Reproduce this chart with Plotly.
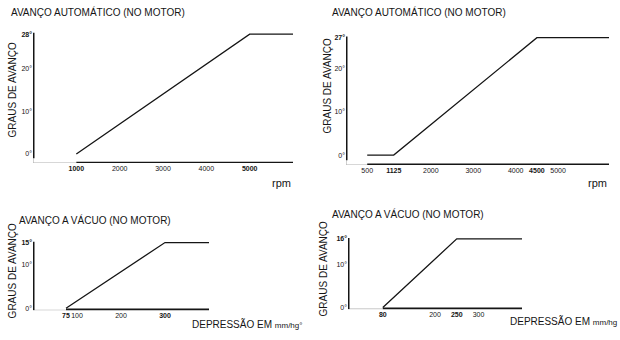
import plotly.graph_objects as go

W, H = 620, 340

# ---------------- data ----------------
rpm_a_x = [1000, 5000, 6000]
rpm_a_y = [0, 28, 28]
rpm_b_x = [500, 1125, 4500, 6200]
rpm_b_y = [0, 0, 27, 27]
vac_a_x = [75, 300, 400]
vac_a_y = [0, 15, 15]
vac_b_x = [80, 250, 400]
vac_b_y = [0, 16, 16]

rpm_a_ticks = [1000, 2000, 3000, 4000, 5000]
rpm_a_text = ["<b>1000</b>", "2000", "3000", "4000", "<b>5000</b>"]
rpm_b_ticks = [500, 1125, 2000, 3000, 4000, 4500, 5000]
rpm_b_text = ["500", "<b>1125</b>", "2000", "3000", "4000", "<b>4500</b>", "5000"]
vac_a_ticks = [75, 100, 200, 300]
vac_a_text = ["<b>75</b>", "100", "200", "<b>300</b>"]
vac_b_ticks = [80, 200, 250, 300]
vac_b_text = ["<b>80</b>", "200", "<b>250</b>", "300"]

deg_a_ticks = [0, 10, 20, 28]
deg_a_text = ["0°", "10°", "20°", "<b>28°</b>"]
deg_b_ticks = [0, 10, 20, 27]
deg_b_text = ["0°", "10°", "20°", "<b>27°</b>"]
deg_c_ticks = [0, 10, 15]
deg_c_text = ["0°", "10°", "<b>15°</b>"]
deg_d_ticks = [0, 10, 16]
deg_d_text = ["0°", "10°", "<b>16°</b>"]

TITLE_RPM = "AVANÇO AUTOMÁTICO (NO MOTOR)"
TITLE_VAC = "AVANÇO A VÁCUO (NO MOTOR)"
YTITLE = "GRAUS DE AVANÇO"

FONT = "Liberation Sans, Arial, sans-serif"
INK = "#151515"
GRAY = "#b0b0b0"

panels = [
    dict(x=rpm_a_x, y=rpm_a_y, xpx=(33, 293), ypx=(30, 164), xr=[0, 6000], yr=[-2.1, 29.0],
         xt=rpm_a_ticks, xtt=rpm_a_text, yt=deg_a_ticks, ytt=deg_a_text, ytop=28.3, ybot=-1.0),
    dict(x=rpm_b_x, y=rpm_b_y, xpx=(346, 609), ypx=(34, 166), xr=[0, 6200], yr=[-2.29, 27.9],
         xt=rpm_b_ticks, xtt=rpm_b_text, yt=deg_b_ticks, ytt=deg_b_text, ytop=27.3, ybot=-1.2),
    dict(x=vac_a_x, y=vac_a_y, xpx=(33, 209), ypx=(239.6, 312.2), xr=[0, 400], yr=[-0.5, 16.0],
         xt=vac_a_ticks, xtt=vac_a_text, yt=deg_c_ticks, ytt=deg_c_text, ytop=15.2, ybot=-0.5),
    dict(x=vac_b_x, y=vac_b_y, xpx=(348, 522), ypx=(236, 311), xr=[0, 400], yr=[-0.4, 17.0],
         xt=vac_b_ticks, xtt=vac_b_text, yt=deg_d_ticks, ytt=deg_d_text, ytop=16.2, ybot=-0.4),
]

fig = go.Figure()
layout = {}
shapes = []
for i, p in enumerate(panels, start=1):
    sx = "" if i == 1 else str(i)
    xa, ya = "x" + sx, "y" + sx
    fig.add_trace(go.Scatter(x=p["x"], y=p["y"], mode="lines", xaxis=xa, yaxis=ya,
                             line=dict(color=INK, width=1.3), showlegend=False, hoverinfo="skip"))
    x0, x1 = p["xpx"]
    yt, yb = p["ypx"]
    layout["xaxis" + sx] = dict(domain=[x0 / W, x1 / W], range=p["xr"], anchor=ya,
                                showgrid=False, zeroline=False, showline=False, ticks="",
                                tickangle=0,
                                tickvals=p["xt"], ticktext=p["xtt"],
                                tickfont=dict(family=FONT, size=7, color=INK))
    layout["yaxis" + sx] = dict(domain=[1 - yb / H, 1 - yt / H], range=p["yr"], anchor=xa,
                                showgrid=False, zeroline=False, showline=False, ticks="",
                                tickvals=p["yt"], ticktext=p["ytt"],
                                tickfont=dict(family=FONT, size=7, color=INK))
    ylow = p["yr"][0]
    start = p["x"][0]
    xend = p["xr"][1]
    shapes.append(dict(type="line", xref=xa, yref=ya, x0=0, x1=start, y0=ylow, y1=ylow,
                       line=dict(color=GRAY, width=1.2)))
    shapes.append(dict(type="line", xref=xa, yref=ya, x0=0, x1=0, y0=ylow, y1=p["ybot"],
                       line=dict(color=GRAY, width=1.2)))
    xthick = 3.5 if i >= 3 else 2.8
    shapes.append(dict(type="line", xref=xa, yref=ya, x0=start, x1=xend, y0=ylow, y1=ylow,
                       line=dict(color=INK, width=xthick)))
    shapes.append(dict(type="line", xref=xa, yref=ya, x0=0, x1=0, y0=p["ybot"], y1=p["ytop"],
                       line=dict(color=INK, width=3)))


def ann(text, x, y, size=10, xanchor="left", angle=0, color=INK):
    return dict(text=text, x=x / W, y=1 - y / H, xref="paper", yref="paper", showarrow=False,
                xanchor=xanchor, yanchor="middle", textangle=angle,
                font=dict(family=FONT, size=size, color=color))


annotations = [
    ann(TITLE_RPM, 9, 12, size=10),
    ann(TITLE_RPM, 330, 12, size=10),
    ann(TITLE_VAC, 17, 221, size=10),
    ann(TITLE_VAC, 330, 215, size=10),
    ann(YTITLE, 12, 91, size=10, xanchor="center", angle=-90),
    ann(YTITLE, 327, 87, size=10, xanchor="center", angle=-90),
    ann(YTITLE, 12, 273, size=10, xanchor="center", angle=-90),
    ann(YTITLE, 323, 271, size=10, xanchor="center", angle=-90),
    ann("rpm", 293, 184, size=11, xanchor="right"),
    ann("rpm", 609, 184, size=11, xanchor="right"),
    ann("DEPRESSÃO EM <span style='font-size:8px'>mm/hg°</span>", 190, 326, size=10),
    ann("DEPRESSÃO EM <span style='font-size:8px'>mm/hg</span>", 508, 323, size=10),
]

fig.update_layout(width=W, height=H, margin=dict(l=0, r=0, t=0, b=0),
                  paper_bgcolor="white", plot_bgcolor="white",
                  shapes=shapes, annotations=annotations, **layout)

fig.write_html("out.html")
